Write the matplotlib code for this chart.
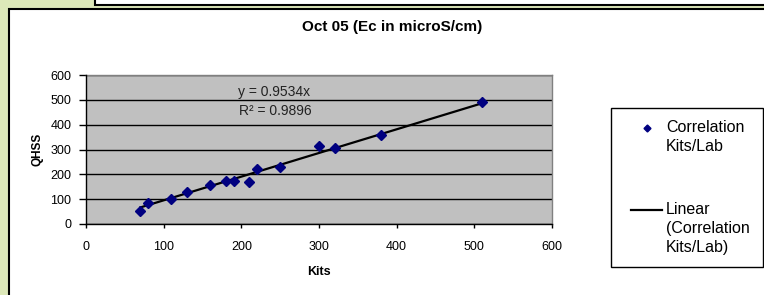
import matplotlib
matplotlib.use("Agg")
import matplotlib.pyplot as plt
from matplotlib.patches import Rectangle
from matplotlib.transforms import Affine2D
from matplotlib.legend_handler import HandlerLine2D

plt.rcParams['font.family'] = ['Liberation Sans', 'DejaVu Sans']

# data
kits = [70, 80, 110, 130, 160, 180, 190, 210, 220, 250, 300, 320, 380, 510]
qhss = [53, 85, 100, 127, 157, 173, 173, 168, 220, 231, 314, 308, 360, 490]
slope = 0.9534
r_squared = 0.9896
title = "Oct 05 (Ec in microS/cm)"
x_ticks = [0, 100, 200, 300, 400, 500, 600]
y_ticks = [0, 100, 200, 300, 400, 500, 600]


class FirstLineHandler(HandlerLine2D):
    # Excel puts the legend key next to the first text line, not the middle
    def __init__(self, nlines, line_pts=13.7, **kw):
        super().__init__(**kw)
        self.shift = (nlines - 1) / 2 * line_pts

    def create_artists(self, legend, orig_handle, xdescent, ydescent,
                       width, height, fontsize, trans):
        trans = Affine2D().translate(0, self.shift) + trans
        return super().create_artists(legend, orig_handle, xdescent, ydescent,
                                      width, height, fontsize, trans)


W, H = 764, 295
fig = plt.figure(figsize=(W / 100, H / 100), dpi=100)
fig.patch.set_facecolor('#dde8b9')

# white panels with black borders (page background)
fig.patches.append(Rectangle((95 / W, 1 - 4.5 / H), 1.0, 0.2, transform=fig.transFigure,
                             facecolor='white', edgecolor='black', linewidth=1.5, zorder=0))
fig.patches.append(Rectangle((9 / W, -0.2), 1.1, 1.2 - 9.2 / H, transform=fig.transFigure,
                             facecolor='white', edgecolor='black', linewidth=1.5, zorder=0))

ax = fig.add_axes([86 / W, (H - 224) / H, 466 / W, 149 / H])
ax.set_zorder(2)
ax.set_facecolor('#c0c0c0')

pts, = ax.plot(kits, qhss, linestyle='none', marker='D', markersize=4.7,
               color='#000080', label='Correlation\nKits/Lab', zorder=4)
x_fit = [min(kits), max(kits)]
y_fit = [slope * v for v in x_fit]
fit, = ax.plot(x_fit, y_fit, color='black', linewidth=1.6,
               label='Linear\n(Correlation\nKits/Lab)', zorder=3)

ax.set_xlim(0, 600)
ax.set_ylim(0, 600)
ax.set_xticks(x_ticks)
ax.set_yticks(y_ticks)
ax.yaxis.grid(True, color='black', linewidth=1.0)
ax.set_axisbelow(True)

for side in ['top', 'right']:
    ax.spines[side].set_color('#808080')
    ax.spines[side].set_linewidth(1.0)
for side in ['left', 'bottom']:
    ax.spines[side].set_color('black')
    ax.spines[side].set_linewidth(1.0)
    ax.spines[side].set_zorder(5)

ax.tick_params(axis='y', direction='out', length=5, width=1, pad=5.5, labelsize=9)
ax.tick_params(axis='x', direction='out', length=3, width=1, pad=9, labelsize=9)

ax.set_xlabel('Kits', fontsize=9, fontweight='bold')
ax.set_ylabel('QHSS', fontsize=8.5, fontweight='bold')
ax.xaxis.set_label_coords(0.5, -0.28)
ax.yaxis.set_label_coords(-0.092, 0.5)

ax.text(242, 532, "y = %.4fx" % slope, ha='center', va='center', fontsize=10, color='#222222')
ax.text(244, 456, "R² = %.4f" % r_squared, ha='center', va='center', fontsize=10, color='#222222')

fig.text(392 / W, 1 - 27 / H, title, ha='center', va='center', fontsize=11, fontweight='bold')

leg = ax.legend(loc='upper left', bbox_to_anchor=(611 / W, 1 - 108 / H - 0.5, 152 / W, 0.5),
                bbox_transform=fig.transFigure, mode='expand', fontsize=11.5,
                frameon=True, fancybox=False, edgecolor='black', framealpha=1,
                borderpad=0.75, labelspacing=2.97, handlelength=2.45, handletextpad=0.25,
                borderaxespad=0, markerscale=0.75,
                handler_map={pts: FirstLineHandler(2, xpad=0.5),
                             fit: FirstLineHandler(3, xpad=0.5)})
leg.get_frame().set_linewidth(1.0)
for t in leg.get_texts():
    t.set_linespacing(1.35)

fig.savefig('out.png', dpi=100, facecolor=fig.get_facecolor())
